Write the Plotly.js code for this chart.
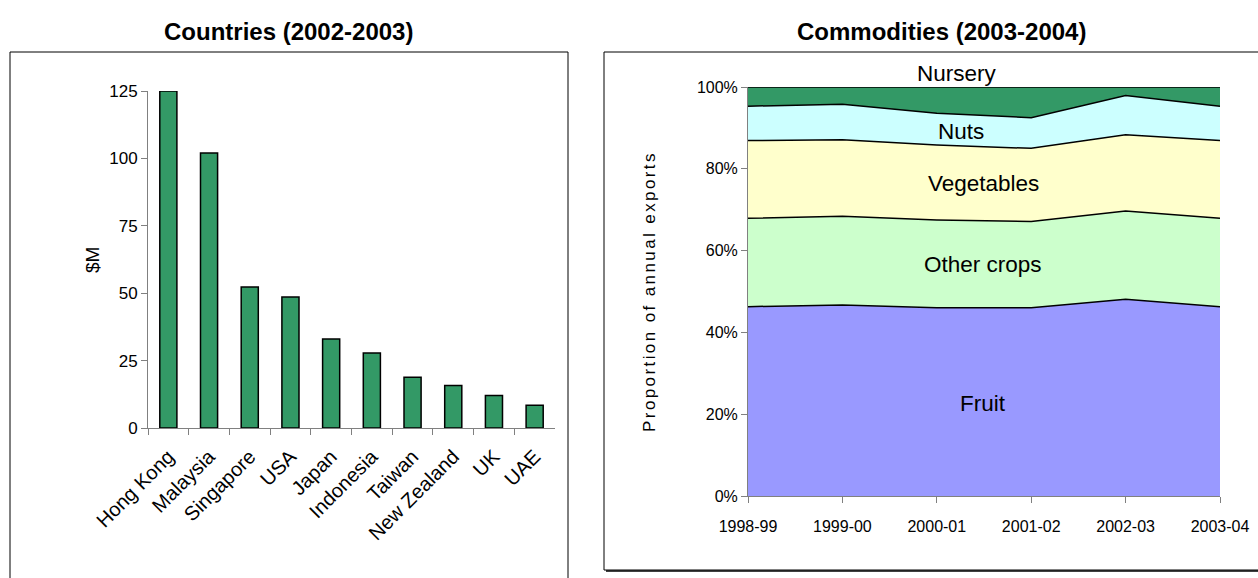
<!DOCTYPE html>
<html>
<head>
<meta charset="utf-8">
<script src="https://cdn.plot.ly/plotly-3.0.1.min.js"></script>
<style>
  html, body { margin: 0; padding: 0; background: #fff; }
  #chart { width: 1258px; height: 578px; }
  .g-y2title text { letter-spacing: 2.4px; }
</style>
</head>
<body>
<div id="chart"></div>
<script>
// Export destinations, 2002-2003 ($M)
const countries = ['Hong Kong', 'Malaysia', 'Singapore', 'USA', 'Japan', 'Indonesia', 'Taiwan', 'New Zealand', 'UK', 'UAE'];
const countryValues = [125, 102, 52.3, 48.6, 33, 27.8, 18.8, 15.8, 12.1, 8.4];
const countryTicks = [0, 25, 50, 75, 100, 125];

// Commodity share of annual exports (%)
const years = ['1998-99', '1999-00', '2000-01', '2001-02', '2002-03', '2003-04'];
const fruit = [46.3, 46.7, 46.0, 46.0, 48.1, 46.3];
const otherCrops = [21.6, 21.7, 21.5, 21.1, 21.6, 21.6];
const vegetables = [19.0, 18.7, 18.3, 17.9, 18.6, 19.0];
const nuts = [8.4, 8.7, 7.8, 7.5, 9.6, 8.4];
const nursery = [4.7, 4.2, 6.4, 7.5, 2.1, 4.7];
const shareTicks = [0, 20, 40, 60, 80, 100];
const shareTickText = ['0%', '20%', '40%', '60%', '80%', '100%'];

const W = 1258, H = 578;
const px = v => v / W;
const py = v => 1 - v / H;

const sans = 'Liberation Sans, Arial, sans-serif';

const areaSeries = [
  { name: 'Fruit', y: fruit, color: '#9999FF' },
  { name: 'Other crops', y: otherCrops, color: '#CCFFCC' },
  { name: 'Vegetables', y: vegetables, color: '#FFFFCC' },
  { name: 'Nuts', y: nuts, color: '#CCFFFF' },
  { name: 'Nursery', y: nursery, color: '#339966' }
];

const traces = [
  {
    type: 'bar',
    x: countries,
    y: countryValues,
    xaxis: 'x', yaxis: 'y',
    width: 0.42,
    marker: { color: '#339966', line: { color: '#000', width: 1.5 } },
    showlegend: false
  }
].concat(areaSeries.map(s => ({
  type: 'scatter',
  mode: 'lines',
  name: s.name,
  x: years,
  y: s.y,
  xaxis: 'x2', yaxis: 'y2',
  stackgroup: 'share',
  fillcolor: s.color,
  line: { color: '#000', width: 1.5 },
  showlegend: false
})));

const labelFont = { family: sans, size: 22.5, color: '#000' };

const layout = {
  width: W, height: H,
  margin: { l: 0, r: 0, t: 0, b: 0 },
  paper_bgcolor: '#fff',
  plot_bgcolor: 'rgba(0,0,0,0)',
  showlegend: false,
  xaxis: {
    domain: [px(148), px(555)],
    type: 'category',
    range: [-0.5, 9.5],
    showgrid: false, zeroline: false,
    showline: true, linecolor: '#808080', linewidth: 1,
    ticks: 'outside', tickson: 'boundaries', ticklen: 6, tickcolor: '#808080',
    tickangle: -45,
    ticklabelstandoff: 8,
    tickfont: { family: sans, size: 20, color: '#000' },
    anchor: 'y'
  },
  yaxis: {
    domain: [py(428), py(91)],
    range: [0, 125],
    tickvals: countryTicks,
    showgrid: false, zeroline: false,
    showline: true, linecolor: '#808080', linewidth: 1,
    ticks: 'outside', ticklen: 6, tickcolor: '#808080',
    tickfont: { family: sans, size: 17, color: '#000' },
    anchor: 'x'
  },
  xaxis2: {
    domain: [px(748), px(1220)],
    type: 'category',
    range: [0, 5],
    showgrid: false, zeroline: false,
    showline: true, linecolor: '#808080', linewidth: 1,
    ticks: 'outside', ticklen: 6, tickcolor: '#808080',
    ticklabelstandoff: 10,
    tickfont: { family: sans, size: 16, color: '#000' },
    anchor: 'y2'
  },
  yaxis2: {
    domain: [py(496), py(87)],
    range: [0, 100],
    tickvals: shareTicks,
    ticktext: shareTickText,
    showgrid: false, zeroline: false,
    showline: true, linecolor: '#808080', linewidth: 1,
    ticks: 'outside', ticklen: 6, tickcolor: '#808080',
    tickfont: { family: sans, size: 16, color: '#000' },
    title: { text: 'Proportion of annual exports', font: { family: sans, size: 17, color: '#000' }, standoff: 36 },
    anchor: 'x2'
  },
  shapes: [
    { type: 'rect', xref: 'paper', yref: 'paper', x0: px(10), x1: px(568), y0: py(585), y1: py(52), line: { color: '#000', width: 1 } },
    { type: 'rect', xref: 'paper', yref: 'paper', x0: px(604), x1: px(1265), y0: py(570), y1: py(52), line: { color: '#000', width: 1 } },
    { type: 'line', xref: 'paper', yref: 'paper', x0: px(606), x1: px(1265), y0: py(571), y1: py(571), line: { color: '#000', width: 1.5 } }
  ],
  annotations: [
    { text: '<b>Countries (2002-2003)</b>', xref: 'paper', yref: 'paper', x: px(288), y: py(31), xanchor: 'center', yanchor: 'middle', showarrow: false, font: { family: sans, size: 24, color: '#000' } },
    { text: '<b>Commodities (2003-2004)</b>', xref: 'paper', yref: 'paper', x: px(941), y: py(31), xanchor: 'center', yanchor: 'middle', showarrow: false, font: { family: sans, size: 24, color: '#000' } },
    { text: '$M', xref: 'paper', yref: 'paper', x: px(92), y: py(260), xanchor: 'center', yanchor: 'middle', textangle: -90, showarrow: false, font: { family: sans, size: 19, color: '#000' } },
    { text: 'Nursery', xref: 'paper', yref: 'paper', x: px(957), y: py(73), xanchor: 'center', yanchor: 'middle', showarrow: false, font: labelFont },
    { text: 'Nuts', xref: 'x2', yref: 'y2', x: 2.26, y: 89.2, showarrow: false, font: labelFont },
    { text: 'Vegetables', xref: 'x2', yref: 'y2', x: 2.49, y: 76.5, showarrow: false, font: labelFont },
    { text: 'Other crops', xref: 'x2', yref: 'y2', x: 2.49, y: 56.5, showarrow: false, font: labelFont },
    { text: 'Fruit', xref: 'x2', yref: 'y2', x: 2.49, y: 22.7, showarrow: false, font: labelFont }
  ]
};

Plotly.newPlot('chart', traces, layout, { staticPlot: true, displayModeBar: false });
</script>
</body>
</html>
